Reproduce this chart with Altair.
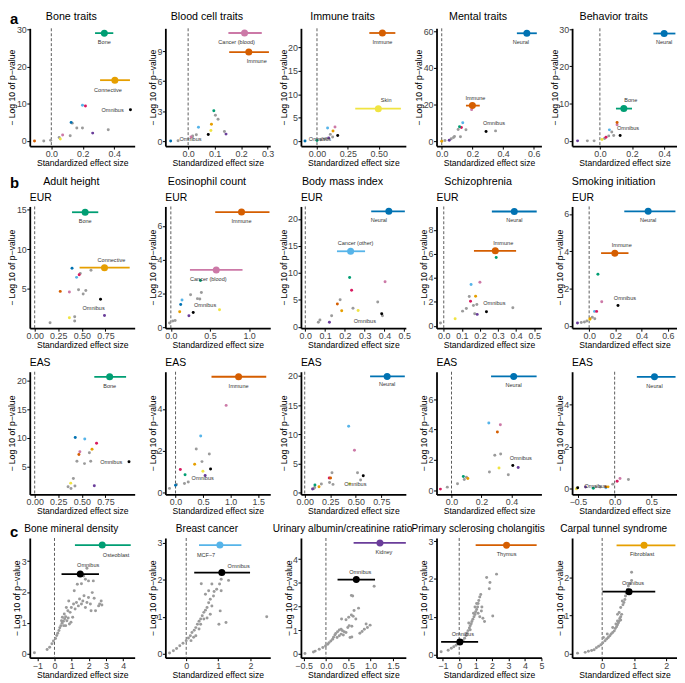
import altair as alt
import pandas as pd

FONT = "Liberation Sans"
XTITLE = "Standardized effect size"
YTITLE = "− Log 10 of p−value"

COLORS = {
    "gray": "#9B9B9B", "black": "#000000", "green": "#009E73", "orange": "#E69F00",
    "pink": "#CC79A7", "verm": "#D55E00", "yellow": "#F0E442", "blue": "#0072B2",
    "sky": "#56B4E9", "purple": "#6A3D9A", "red": "#D81B60",
}

# ---------------- Row a: trait groups ----------------
A1_PTS = [("gray", -0.048, 0.0), ("gray", -0.004, 0.2), ("verm", -0.107, 0.0), ("yellow", 0.057, 0.5),
          ("gray", 0.05, 0.9), ("gray", 0.12, 1.4), ("pink", 0.072, 1.6), ("purple", 0.263, 2.1),
          ("gray", 0.362, 3.0), ("gray", 0.162, 3.5), ("gray", 0.198, 3.5), ("gray", 0.133, 4.8),
          ("blue", 0.126, 5.0), ("sky", 0.198, 9.6), ("red", 0.217, 9.4), ("black", 0.503, 8.4)]
A1_HL = [("Bone", "green", 0.337, 29.1, 0.278, 0.394), ("Connective", "orange", 0.404, 16.4, 0.31, 0.50)]

A2_PTS = [("blue", -0.066, 0.0), ("gray", -0.038, 0.03), ("pink", 0.011, 0.40), ("gray", 0.017, 0.5),
          ("gray", 0.031, 0.64), ("black", 0.076, 0.67), ("purple", 0.143, 0.70), ("gray", 0.137, 0.97),
          ("yellow", 0.086, 1.07), ("sky", 0.039, 1.38), ("orange", 0.088, 1.68), ("gray", 0.113, 2.18),
          ("gray", 0.103, 2.58), ("green", 0.097, 3.05)]
A2_HL = [("Cancer (blood)", "pink", 0.213, 10.83, 0.152, 0.278), ("Immune", "verm", 0.229, 8.92, 0.155, 0.305)]

A3_PTS = [("blue", -0.097, 0.0), ("green", 0.0, 0.14), ("gray", 0.03, 0.3), ("gray", 0.06, 0.43),
          ("gray", 0.076, 0.57), ("purple", 0.095, 0.64), ("gray", 0.127, 0.86), ("gray", 0.108, 1.43),
          ("black", 0.168, 1.21), ("orange", 0.13, 2.14), ("sky", 0.086, 2.8), ("pink", 0.146, 3.0)]
A3_HL = [("Immune", "verm", 0.53, 23.1, 0.424, 0.635), ("Skin", "yellow", 0.497, 6.93, 0.31, 0.68)]

A4_PTS = [("orange", 0.0, 0.0), ("gray", 0.021, 0.36), ("purple", 0.049, 0.5), ("gray", 0.062, 1.3),
          ("gray", 0.077, 2.0), ("gray", 0.083, 2.5), ("gray", 0.122, 2.4), ("gray", 0.107, 6.3),
          ("gray", 0.158, 6.2), ("red", 0.128, 7.4), ("green", 0.116, 7.8), ("sky", 0.137, 10.0),
          ("pink", 0.195, 17.2), ("gray", 0.351, 5.6), ("black", 0.289, 5.3)]
A4_HL = [("Neural", "blue", 0.555, 58.9, 0.49, 0.62), ("Immune", "verm", 0.2, 19.4, 0.158, 0.248)]

A5_PTS = [("purple", -0.139, 0.0), ("gray", -0.078, 0.0), ("gray", -0.036, 0.0), ("yellow", 0.013, 0.36),
          ("gray", 0.029, 0.63), ("red", 0.038, 1.0), ("gray", 0.055, 1.34), ("gray", 0.086, 1.43),
          ("gray", 0.074, 2.4), ("sky", 0.059, 2.95), ("pink", 0.107, 4.3), ("verm", 0.107, 4.9),
          ("black", 0.126, 1.43)]
A5_HL = [("Neural", "blue", 0.4, 28.8, 0.333, 0.47), ("Bone", "green", 0.149, 8.66, 0.1, 0.2)]

# ---------------- Row b: EUR ----------------
B1_PTS = [("gray", 0.163, 0.72), ("gray", 0.424, 0.93), ("yellow", 0.368, 1.34), ("gray", 0.424, 1.46),
          ("purple", 0.74, 1.63), ("black", 0.698, 3.68), ("gray", 0.514, 4.34), ("pink", 0.368, 4.59),
          ("verm", 0.271, 4.67), ("gray", 0.542, 4.79), ("gray", 0.465, 4.88), ("sky", 0.444, 6.44),
          ("red", 0.472, 6.77), ("gray", 0.483, 6.93), ("gray", 0.597, 7.35), ("blue", 0.396, 7.6)]
B1_HL = [("Bone", "green", 0.535, 14.67, 0.396, 0.674), ("Connective", "orange", 0.74, 7.67, 0.476, 1.007)]

B2_PTS = [("gray", -0.017, 0.25), ("gray", 0.025, 0.37), ("gray", 0.055, 0.39), ("purple", 0.231, 0.68),
          ("black", 0.286, 0.87), ("orange", 0.113, 0.91), ("yellow", 0.622, 1.03), ("blue", 0.126, 1.34),
          ("sky", 0.143, 1.61), ("gray", 0.37, 1.67), ("gray", 0.34, 1.69), ("gray", 0.252, 1.92),
          ("gray", 0.39, 2.05), ("green", 0.378, 2.77)]
B2_HL = [("Immune", "verm", 0.903, 6.82, 0.567, 1.26), ("Cancer (blood)", "pink", 0.58, 3.39, 0.244, 0.916)]

B3_PTS = [("gray", 0.066, 0.85), ("gray", 0.074, 1.27), ("purple", 0.122, 0.85), ("gray", 0.133, 2.06),
          ("gray", 0.39, 2.06), ("black", 0.386, 2.42), ("orange", 0.184, 2.97), ("yellow", 0.267, 3.03),
          ("gray", 0.241, 3.45), ("verm", 0.162, 4.24), ("gray", 0.366, 4.6), ("gray", 0.176, 5.03),
          ("red", 0.234, 6.79), ("pink", 0.403, 8.36), ("green", 0.224, 9.15)]
B3_HL = [("Neural", "blue", 0.422, 21.4, 0.333, 0.503), ("Cancer (other)", "sky", 0.229, 14.0, 0.16, 0.302)]

B4_PTS = [("gray", -0.018, 0.25), ("yellow", 0.063, 0.6), ("purple", 0.185, 0.96), ("gray", 0.171, 1.01),
          ("black", 0.236, 1.18), ("gray", 0.104, 1.23), ("gray", 0.125, 1.45), ("gray", 0.382, 1.51),
          ("gray", 0.164, 1.7), ("gray", 0.183, 1.78), ("red", 0.148, 2.05), ("gray", 0.141, 2.44),
          ("orange", 0.176, 2.47), ("sky", 0.151, 3.45), ("pink", 0.2, 3.64), ("green", 0.29, 5.7)]
B4_HL = [("Neural", "blue", 0.39, 9.53, 0.266, 0.514), ("Immune", "verm", 0.285, 6.25, 0.167, 0.4)]

B5_PTS = [("purple", -0.089, 0.16), ("gray", -0.06, 0.18), ("gray", -0.036, 0.21), ("gray", -0.017, 0.26),
          ("yellow", 0.005, 0.34), ("orange", 0.007, 0.39), ("gray", 0.043, 0.39), ("gray", 0.024, 0.46),
          ("sky", 0.041, 0.78), ("red", 0.057, 0.78), ("black", 0.22, 1.09), ("pink", 0.096, 1.29),
          ("green", 0.067, 2.77)]
B5_HL = [("Neural", "blue", 0.45, 6.14, 0.268, 0.658), ("Immune", "verm", 0.196, 3.9, 0.091, 0.3)]

# ---------------- Row b: EAS ----------------
C1_PTS = [("gray", 0.385, 1.16), ("gray", 0.354, 1.45), ("gray", 0.427, 1.56), ("purple", 0.632, 1.62),
          ("yellow", 0.382, 2.08), ("gray", 0.41, 2.9), ("gray", 0.528, 5.5), ("gray", 0.448, 5.9),
          ("gray", 0.594, 5.9), ("black", 1.0, 5.84), ("verm", 0.469, 7.1), ("gray", 0.58, 7.4),
          ("pink", 0.479, 7.57), ("orange", 0.608, 8.03), ("red", 0.656, 9.08), ("sky", 0.531, 9.83),
          ("blue", 0.43, 10.06)]
C1_HL = [("Bone", "green", 0.795, 20.7, 0.632, 0.969)]

C2_PTS = [("gray", -0.11, 0.2), ("gray", 0.017, 0.39), ("blue", 0.0, 0.35), ("gray", 0.162, 0.43),
          ("gray", 0.231, 0.5), ("purple", 0.538, 0.82), ("green", 0.173, 0.85), ("yellow", 0.497, 1.02),
          ("red", 0.087, 1.1), ("black", 0.636, 1.13), ("orange", 0.347, 1.35), ("gray", 0.48, 1.48),
          ("gray", 0.613, 1.84), ("gray", 0.376, 2.08), ("sky", 0.457, 2.71), ("pink", 0.919, 4.17)]
C2_HL = [("Immune", "verm", 1.145, 5.54, 0.653, 1.647)]

C3_PTS = [("purple", 0.077, 0.63), ("gray", 0.09, 0.74), ("gray", 0.097, 0.91), ("orange", 0.14, 1.03),
          ("green", 0.1, 1.31), ("gray", 0.277, 1.43), ("gray", 0.163, 1.49), ("yellow", 0.44, 1.54),
          ("gray", 0.243, 1.77), ("gray", 0.547, 2.17), ("red", 0.24, 2.51), ("verm", 0.253, 2.51),
          ("black", 0.573, 2.91), ("gray", 0.267, 3.43), ("gray", 0.517, 3.43), ("pink", 0.487, 7.26),
          ("sky", 0.43, 11.37)]
C3_HL = [("Neural", "blue", 0.807, 19.9, 0.64, 0.98)]

C4_PTS = [("red", -0.074, 0.09), ("gray", -0.028, 0.22), ("gray", 0.04, 0.44), ("gray", 0.085, 0.72),
          ("orange", 0.109, 0.79), ("gray", 0.1, 0.87), ("green", 0.079, 0.92), ("gray", 0.379, 1.03),
          ("gray", 0.253, 1.22), ("yellow", 0.317, 1.48), ("purple", 0.445, 1.51), ("black", 0.409, 1.64),
          ("gray", 0.289, 2.31), ("gray", 0.328, 2.4), ("verm", 0.306, 3.84), ("pink", 0.326, 4.32),
          ("sky", 0.249, 4.43)]
C4_HL = [("Neural", "blue", 0.415, 7.49, 0.264, 0.568)]

C5_PTS = [("yellow", -0.521, 0.0), ("black", -0.504, 0.05), ("purple", -0.397, 0.08), ("green", -0.291, 0.02),
          ("gray", -0.256, 0.09), ("gray", -0.197, 0.08), ("sky", -0.12, 0.05), ("verm", -0.12, 0.09),
          ("orange", -0.09, 0.09), ("gray", -0.026, 0.22), ("red", 0.034, 0.36), ("pink", 0.073, 0.49),
          ("gray", 0.188, 0.44)]
C5_HL = [("Neural", "blue", 0.543, 5.32, 0.303, 0.83)]

# ---------------- Row c: single traits ----------------
D1_PTS = [("gray", x, y) for x, y in [
    (-1.17, 0.03), (-0.43, 0.14), (-0.28, 0.21), (-0.15, 0.32), (-0.06, 0.41), (0.06, 0.49), (0.13, 0.59),
    (0.19, 0.66), (0.26, 0.75), (0.31, 0.84), (0.37, 0.91), (0.44, 0.99), (0.52, 1.05), (0.59, 1.13),
    (0.65, 1.2), (0.57, 1.29), (0.72, 1.07), (0.8, 1.16), (0.87, 0.96), (0.96, 1.02), (1.06, 1.18),
    (0.91, 1.34), (0.98, 1.5), (1.11, 1.61), (1.2, 1.45), (1.28, 1.66), (1.39, 1.55), (1.46, 1.77),
    (1.57, 1.61), (1.65, 1.71), (1.72, 1.88), (1.8, 1.5), (1.89, 1.66), (1.98, 1.82), (2.09, 1.61),
    (2.2, 1.98), (2.31, 1.8), (2.13, 1.39), (2.39, 1.39), (2.57, 1.55), (2.72, 1.71), (2.63, 1.61),
    (2.76, 1.58), (1.98, 2.36), (1.8, 2.41), (2.26, 2.36), (1.89, 2.77), (1.57, 2.27), (1.7, 2.52),
    (1.33, 2.25), (1.15, 2.04), (0.83, 1.71), (0.69, 1.5), (0.78, 1.39), (0.46, 1.18), (0.54, 0.91),
    (0.41, 1.07), (0.65, 0.91)]]
D1_HL = [("Osteoblast", "green", 2.78, 3.52, 1.19, 4.44), ("Omnibus", "black", 1.5, 2.58, 0.41, 2.59)]

D2_PTS = [("gray", x, y) for x, y in [
    (-0.52, 0.03), (-0.4, 0.09), (-0.3, 0.15), (-0.2, 0.22), (-0.1, 0.29), (0.0, 0.36), (0.07, 0.43),
    (0.13, 0.49), (0.18, 0.58), (0.25, 0.64), (0.3, 0.71), (0.35, 0.8), (0.4, 0.88), (0.45, 0.94),
    (0.5, 1.03), (0.55, 1.12), (0.6, 1.18), (0.65, 1.25), (0.55, 0.94), (0.45, 0.8), (0.65, 0.97),
    (0.75, 1.07), (0.8, 1.29), (0.7, 1.38), (0.75, 1.47), (0.85, 1.56), (0.87, 1.68), (0.95, 1.74),
    (0.7, 1.7), (0.6, 1.61), (0.47, 1.89), (0.8, 1.88), (1.04, 1.88), (1.09, 1.7), (1.06, 1.16),
    (1.02, 0.8), (1.24, 0.85), (1.32, 1.98), (1.09, 2.01), (2.51, 1.0), (0.3, 0.49), (0.23, 0.45),
    (0.4, 0.67), (0.15, 0.36)]]
D2_HL = [("MCF−7", "sky", 1.05, 2.93, 0.4, 1.72), ("Omnibus", "black", 1.11, 2.19, 0.25, 1.99)]

D3_PTS = [("gray", x, y) for x, y in [
    (-0.47, 0.01), (-0.28, 0.07), (-0.24, 0.11), (-0.15, 0.19), (-0.07, 0.26), (-0.01, 0.33), (0.04, 0.4),
    (0.07, 0.47), (0.11, 0.54), (0.15, 0.61), (0.17, 0.7), (0.2, 0.79), (0.22, 0.86), (0.26, 0.93),
    (0.3, 1.0), (0.34, 1.04), (0.37, 0.97), (0.41, 0.93), (0.45, 0.9), (0.3, 0.76), (0.25, 0.69),
    (0.34, 0.83), (0.39, 0.79), (0.35, 1.47), (0.45, 1.44), (0.51, 1.54), (0.57, 1.64), (0.63, 1.83),
    (0.73, 1.93), (0.61, 1.59), (0.67, 1.47), (0.57, 2.47), (0.6, 2.44), (0.58, 1.16), (0.58, 0.71),
    (0.54, 0.69), (0.81, 0.94), (0.76, 0.87), (0.86, 1.04), (0.93, 1.11), (0.99, 1.21), (0.9, 1.26),
    (1.08, 2.86), (0.49, 1.11), (0.52, 1.19)]]
D3_HL = [("Kidney", "purple", 1.21, 4.69, 0.62, 1.79), ("Omnibus", "black", 0.68, 3.14, 0.26, 1.1)]

D4_PTS = [("gray", x, y) for x, y in [
    (-1.1, 0.07), (-0.67, 0.11), (-0.48, 0.16), (-0.33, 0.2), (-0.19, 0.24), (-0.06, 0.29), (0.1, 0.32),
    (0.23, 0.37), (0.33, 0.43), (0.42, 0.5), (0.48, 0.57), (0.54, 0.63), (0.62, 0.7), (0.67, 0.76),
    (0.73, 0.81), (0.77, 0.87), (0.83, 0.93), (0.9, 1.0), (0.96, 1.06), (1.0, 1.13), (1.06, 1.19),
    (1.12, 1.26), (1.15, 1.35), (1.19, 1.43), (1.25, 1.52), (1.31, 1.59), (1.06, 1.35), (0.96, 1.26),
    (0.87, 1.09), (1.15, 1.09), (1.25, 1.0), (1.35, 1.15), (1.44, 0.96), (1.54, 0.87), (1.38, 1.26),
    (1.67, 2.04), (1.87, 1.91), (1.83, 1.74), (2.27, 2.13), (2.04, 1.02), (0.67, 0.65), (0.58, 0.83)]]
D4_HL = [("Thymus", "verm", 2.88, 2.9, 1.0, 4.71), ("Omnibus", "black", 0.04, 0.33, -1.1, 1.15)]

D5_PTS = [("gray", x, y) for x, y in [
    (-0.77, 0.02), (-0.53, 0.04), (-0.43, 0.07), (-0.33, 0.09), (-0.25, 0.11), (-0.18, 0.16), (-0.11, 0.2),
    (-0.04, 0.24), (0.02, 0.29), (0.09, 0.34), (0.14, 0.39), (0.19, 0.43), (0.24, 0.47), (0.28, 0.52),
    (0.33, 0.56), (0.38, 0.6), (0.41, 0.66), (0.45, 0.71), (0.48, 0.76), (0.51, 0.81), (0.53, 0.86),
    (0.55, 0.92), (0.58, 0.97), (0.48, 1.03), (0.53, 1.08), (0.61, 1.03), (0.58, 1.21), (0.65, 1.28),
    (0.68, 1.34), (0.63, 1.38), (0.71, 1.42), (0.73, 1.51), (0.75, 1.59), (0.79, 1.68), (0.82, 1.77),
    (0.87, 1.83), (0.92, 1.91), (0.92, 2.13), (0.48, 0.86), (0.43, 0.78), (0.33, 0.69), (0.16, 0.52),
    (0.04, 0.43), (0.58, 0.88)]]
D5_HL = [("Fibroblast", "orange", 1.31, 2.83, 0.45, 2.29), ("Omnibus", "black", 0.84, 1.62, 0.01, 1.66)]

# ---------------- styles ----------------
W = 106
SPACING = 31
PT = 9
BIG = 50
LABEL_SIZE = 5.6


def text_layer(t, x, y, size, weight="normal", align="center"):
    return alt.Chart(pd.DataFrame({"t": [t]})).mark_text(
        align=align, baseline="alphabetic", fontSize=size, font=FONT, fontWeight=weight,
        color="black").encode(x=alt.value(x), y=alt.value(y), text="t:N")


def panel(pts, hl, off, xdom, xticks, xfmt, ydom, yticks, h,
          title=None, title_y=-8, title_size=10.8, tag=None, letter=None, letter_y=0):
    digits = max(len(str(v)) for v in yticks)
    sx = alt.Scale(domain=xdom, nice=False, zero=False)
    sy = alt.Scale(domain=ydom, nice=False, zero=False)
    ax = alt.Axis(values=xticks, format=xfmt, title=XTITLE)
    ay = alt.Axis(values=yticks, format="d", title=YTITLE, titleX=-(3 + 5 * digits),
                  titleBaseline="bottom")

    def X(f):
        return alt.X(f + ":Q", scale=sx, axis=ax)

    def Y(f):
        return alt.Y(f + ":Q", scale=sy, axis=ay)

    layers = [alt.Chart(pd.DataFrame({"x": [0.0]})).mark_rule(
        strokeDash=[3, 2], color="#4a4a4a", strokeWidth=0.9).encode(x=X("x"))]
    df = pd.DataFrame(pts, columns=["cat", "x", "y"])
    df["c"] = df["cat"].map(COLORS)
    for sub in (df[df.cat == "gray"], df[df.cat != "gray"]):
        if len(sub):
            layers.append(alt.Chart(sub).mark_circle(size=PT, opacity=1).encode(
                x=X("x"), y=Y("y"), color=alt.Color("c:N", scale=None)))
    hdf = pd.DataFrame(hl, columns=["lab", "cat", "x", "y", "lo", "hi"])
    hdf["c"] = hdf["cat"].map(COLORS)
    layers.append(alt.Chart(hdf).mark_rule(strokeWidth=1.8).encode(
        x=X("lo"), x2="hi:Q", y=Y("y"), color=alt.Color("c:N", scale=None)))
    layers.append(alt.Chart(hdf).mark_circle(size=BIG, opacity=1).encode(
        x=X("x"), y=Y("y"), color=alt.Color("c:N", scale=None)))
    labs = [(r[0], r[2], r[3]) for r in hl]
    blk = [p for p in pts if p[0] == "black"]
    if blk:
        labs.append(("Omnibus", blk[0][1], blk[0][2]))
    for (t, x, y), (dx, dy) in zip(labs, off):
        layers.append(alt.Chart(pd.DataFrame({"t": [t], "x": [x], "y": [y]})).mark_text(
            dx=dx, dy=dy, fontSize=LABEL_SIZE, font=FONT, color="#333333").encode(
            x=X("x"), y=Y("y"), text="t:N"))
    if title:
        layers.append(text_layer(title, W / 2 - 11, title_y, title_size))
    if tag:
        layers.append(text_layer(tag, 0, -6, 10.5, align="left"))
    if letter:
        layers.append(text_layer(letter, -20, letter_y, 15, weight="bold", align="left"))
    return alt.layer(*layers).properties(width=W, height=h)


HA, HB, HE, HC = 119, 123, 124, 121

row_a = alt.hconcat(
    panel(A1_PTS, A1_HL, [(0, 9), (-7, 10), (-18, 0)], [-0.137, 0.53], [0, 0.2, 0.4], ".1f",
          [-1.4, 30.4], [0, 10, 20, 30], HA, title="Bone traits", letter="a", letter_y=-4),
    panel(A2_PTS, A2_HL, [(-8, 9), (8, 9), (-18, 5)], [-0.086, 0.31], [0, 0.1, 0.2, 0.3], ".1f",
          [-0.5, 11.3], [0, 3, 6, 9], HA, title="Blood cell traits"),
    panel(A3_PTS, A3_HL, [(0, 9), (8, -9), (-18, 4)], [-0.13, 0.72], [0, 0.25, 0.5], ".2f",
          [-1.07, 24.1], [0, 5, 10, 15, 20], HA, title="Immune traits"),
    panel(A4_PTS, A4_HL, [(-6, 9), (3, -8), (8, -8)], [-0.034, 0.65], [0, 0.2, 0.4, 0.6], ".1f",
          [-2.7, 61.6], [0, 20, 40, 60], HA, title="Mental traits"),
    panel(A5_PTS, A5_HL, [(0, 9), (7, -9), (8, -8)], [-0.173, 0.48], [0, 0.2, 0.4], ".1f",
          [-1.4, 30.2], [0, 10, 20, 30], HA, title="Behavior traits"),
    spacing=SPACING, bounds="flush")

TB = -22
row_b = alt.hconcat(
    panel(B1_PTS, B1_HL, [(0, 9), (7, -8), (-7, 9)], [-0.052, 1.06], [0, 0.25, 0.5, 0.75], ".2f",
          [0.02, 15.4], [5, 10, 15], HB, title="Adult height", title_y=TB, tag="EUR",
          letter="b", letter_y=-19),
    panel(B2_PTS, B2_HL, [(0, 9), (-8, 9), (12, -8)], [-0.07, 1.27], [0, 0.5, 1.0], ".1f",
          [-0.06, 7.15], [0, 2, 4, 6], HB, title="Eosinophil count", title_y=TB, tag="EUR"),
    panel(B3_PTS, B3_HL, [(-10, 9), (5, -8), (-17, 7)], [-0.022, 0.508], [0, 0.1, 0.2, 0.3, 0.4, 0.5], ".1f",
          [-0.24, 22.3], [0, 5, 10, 15, 20], HB, title="Body mass index", title_y=TB, tag="EUR"),
    panel(B4_PTS, B4_HL, [(0, 9), (8, -8), (8, -9)], [-0.04, 0.54], [0, 0.1, 0.2, 0.3, 0.4, 0.5], ".1f",
          [-0.19, 9.95], [0, 2, 4, 6, 8], HB, title="Schizophrenia", title_y=TB, tag="EUR"),
    panel(B5_PTS, B5_HL, [(0, 9), (7, -8), (7, -8)], [-0.13, 0.67], [0, 0.2, 0.4, 0.6], ".1f",
          [-0.12, 6.4], [0, 2, 4, 6], HB, title="Smoking initiation", title_y=TB, tag="EUR"),
    spacing=SPACING, bounds="flush")

row_e = alt.hconcat(
    panel(C1_PTS, C1_HL, [(0, 9), (-18, 0)], [-0.052, 1.06], [0, 0.25, 0.5, 0.75], ".2f",
          [0.1, 21.6], [5, 10, 15, 20], HE, tag="EAS"),
    panel(C2_PTS, C2_HL, [(0, 9), (-8, 9)], [-0.185, 1.72], [0, 0.5, 1.0, 1.5], ".1f",
          [-0.09, 5.78], [0, 2, 4], HE, tag="EAS"),
    panel(C3_PTS, C3_HL, [(0, 8), (-8, 8)], [-0.037, 0.99], [0, 0.25, 0.5, 0.75], ".2f",
          [-0.29, 20.7], [0, 5, 10, 15, 20], HE, tag="EAS"),
    panel(C4_PTS, C4_HL, [(0, 9), (8, -8)], [-0.1, 0.6], [0, 0.2, 0.4], ".1f",
          [-0.26, 7.8], [0, 2, 4, 6], HE, tag="EAS"),
    panel(C5_PTS, C5_HL, [(0, 9), (18, -2)], [-0.58, 0.85], [-0.5, 0, 0.5], ".1f",
          [-0.27, 5.56], [0, 2, 4], HE, tag="EAS"),
    spacing=SPACING, bounds="flush")

TC = -6
SC = 10.2
row_c = alt.hconcat(
    panel(D1_PTS, D1_HL, [(14, 10), (8, -9)], [-1.44, 4.67], [-1, 0, 1, 2, 3, 4], "d",
          [-0.13, 3.75], [0, 1, 2, 3], HC, title="Bone mineral density", title_y=TC, title_size=SC,
          letter="c", letter_y=-1),
    panel(D2_PTS, D2_HL, [(-14, 10), (17, -7)], [-0.65, 2.62], [0, 1, 2], "d",
          [-0.1, 3.12], [0, 1, 2, 3], HC, title="Breast cancer", title_y=TC, title_size=SC),
    panel(D3_PTS, D3_HL, [(4, 9), (4, -8)], [-0.56, 1.79], [-0.5, 0, 0.5, 1.0, 1.5], ".1f",
          [-0.17, 4.9], [0, 1, 2, 3, 4], HC, title="Urinary albumin/creatinine ratio", title_y=TC,
          title_size=SC),
    panel(D4_PTS, D4_HL, [(0, 9), (3, -8)], [-1.38, 5.0], [-1, 0, 1, 2, 3, 4, 5], "d",
          [-0.09, 3.09], [0, 1, 2, 3], HC, title="Primary sclerosing cholangitis", title_y=TC,
          title_size=SC),
    panel(D5_PTS, D5_HL, [(-2, 9), (4, -9)], [-0.94, 2.34], [0, 1, 2], "d",
          [-0.1, 3.02], [0, 1, 2], HC, title="Carpal tunnel syndrome", title_y=TC, title_size=SC),
    spacing=SPACING, bounds="flush")

chart = alt.vconcat(row_a, row_b, row_e, row_c, spacing=8).properties(
    padding={"left": 0, "top": 0, "right": 0, "bottom": 0},
    autosize=alt.AutoSizeParams(type="pad"),
).configure_view(stroke=None).configure_axis(
    grid=False, domainColor="black", domainWidth=1.8, tickColor="black", tickWidth=1,
    tickSize=3, labelFont=FONT, labelFontSize=9, labelColor="#444444", labelPadding=0.5,
    labelFlush=False, labelOverlap=False, titleFont=FONT, titleFontSize=8.7,
    titleFontWeight="normal", titleColor="black", titlePadding=0
)

chart.save("out.html", embed_options={"renderer": "svg", "actions": False})
